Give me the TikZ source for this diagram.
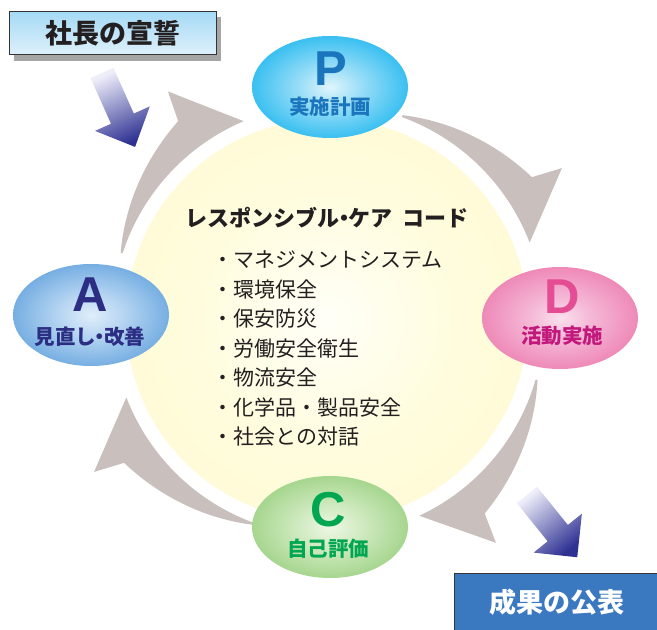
\documentclass[tikz,border=0pt]{standalone}
\usepackage{fontspec}
\setmainfont{Noto Sans CJK JP}
\newfontfamily\lat{Liberation Sans}
\usetikzlibrary{shapes.geometric}
\definecolor{arrowgray}{RGB}{201,192,190}
\definecolor{navyarrow}{RGB}{46,49,146}
\definecolor{lavarrow}{RGB}{238,238,250}
\definecolor{inkgray}{RGB}{35,31,32}
\definecolor{pubblue}{RGB}{58,120,192}
\definecolor{oathtop}{RGB}{165,218,245}
\definecolor{oathbot}{RGB}{222,240,251}
\definecolor{ptext}{RGB}{27,117,188}
\definecolor{dletter}{RGB}{228,77,147}
\definecolor{dtext}{RGB}{194,24,124}
\definecolor{atext}{RGB}{43,46,131}
\definecolor{ctext}{RGB}{0,166,81}
\pgfdeclareradialshading{yelshade}{\pgfpoint{0bp}{0bp}}{rgb(0bp)=(1,1,0.97);rgb(16bp)=(1,0.99,0.87);rgb(50bp)=(1,0.97,0.78)}
\pgfdeclareradialshading{pshade}{\pgfpoint{0bp}{0bp}}{rgb(0bp)=(0.88,0.96,0.99);rgb(10bp)=(0.6,0.87,0.97);rgb(34bp)=(0,0.68,0.93);rgb(50bp)=(0,0.68,0.93)}
\pgfdeclareradialshading{dshade}{\pgfpoint{0bp}{0bp}}{rgb(0bp)=(0.98,0.88,0.93);rgb(10bp)=(0.96,0.72,0.84);rgb(34bp)=(0.92,0.43,0.65);rgb(50bp)=(0.92,0.43,0.65)}
\pgfdeclareradialshading{ashade}{\pgfpoint{0bp}{0bp}}{rgb(0bp)=(0.88,0.93,0.98);rgb(10bp)=(0.72,0.84,0.95);rgb(34bp)=(0.31,0.59,0.85);rgb(50bp)=(0.31,0.59,0.85)}
\pgfdeclareradialshading{cshade}{\pgfpoint{0bp}{0bp}}{rgb(0bp)=(0.93,0.97,0.9);rgb(10bp)=(0.82,0.92,0.76);rgb(34bp)=(0.55,0.79,0.44);rgb(50bp)=(0.55,0.79,0.44)}
\tikzset{
  phase/.style={ellipse, inner sep=0pt, minimum width=156pt, minimum height=102pt},
  bigletter/.style={inner sep=0pt, font=\lat\bfseries\fontsize{49}{49}\selectfont},
  sublabel/.style={inner sep=0pt, font=\bfseries\fontsize{20.5}{20.5}\selectfont},
  listitem/.style={inner sep=0pt, anchor=west, text=inkgray, font=\fontsize{21}{21}\selectfont},
  bluearrow/.style={top color=lavarrow, bottom color=navyarrow}
}
\begin{document}
\begin{tikzpicture}[x=1pt,y=1pt]
\useasboundingbox (0,0) rectangle (657,630);
\fill[white] (0,0) rectangle (657,630);
% central circle
\node[circle, inner sep=0pt, minimum size=402pt, shading=yelshade] (core) at (327,310) {};
% gray cycle arrows
\foreach \T in {162,70,-16,-110}{
  \fill[arrowgray, shift={(328,310)}] ({\T}:216) arc[start angle=\T, end angle=\T-49, radius=216]
    -- ({\T-37}:279) -- ({\T-35}:249)
    -- plot[domain=0:1, samples=20, smooth] ({\T-35+35*\x}:{249-31*\x}) -- cycle;
}
% phase ellipses
\node[phase, shading=pshade] (P) at (330,543) {};
\node[phase, shading=dshade] (D) at (560,312) {};
\node[phase, shading=ashade] (A) at (91,315) {};
\node[phase, shading=cshade] (C) at (330,103) {};
\node[bigletter, text=ptext] (Pl) at (331,561) {P};
\node[sublabel, text=ptext] (Pt) at (330,523) {実施計画};
\node[bigletter, text=dletter] (Dl) at (562,333) {D};
\node[sublabel, text=dtext] (Dt) at (562,294) {活動実施};
\node[bigletter, text=atext] (Al) at (90,335) {A};
\node[sublabel, text=atext] (At) at (90,293) {見直し\hspace{-0.3em}・\hspace{-0.3em}改善};
\node[bigletter, text=ctext] (Cl) at (328,120) {C};
\node[sublabel, text=ctext] (Ct) at (328,81) {自己評価};
% central text
\node[inner sep=0pt, text=inkgray, font=\bfseries\fontsize{22}{22}\selectfont] (title) at (327,412)
  {レスポンシブル\hspace{-0.3em}・\hspace{-0.3em}ケア\hspace{0.45em}コード};
\node[listitem] (l1) at (212,370) {・マネジメントシステム};
\node[listitem] (l2) at (212,340.5) {・環境保全};
\node[listitem] (l3) at (212,311) {・保安防災};
\node[listitem] (l4) at (212,281.5) {・労働安全衛生};
\node[listitem] (l5) at (212,252) {・物流安全};
\node[listitem] (l6) at (212,222.5) {・化学品・製品安全};
\node[listitem] (l7) at (212,193) {・社会との対話};
% oath box
\fill[black!35] (14,569) rectangle (221,613);
\node[draw=black!80, line width=0.6pt, top color=oathtop, bottom color=oathbot, anchor=south west,
  minimum width=207pt, minimum height=43pt, inner sep=0pt, text=inkgray,
  font=\bfseries\fontsize{27}{27}\selectfont] (oath) at (9,575) {社長の宣誓};
% publication box
\node[draw=black!80, line width=0.6pt, fill=pubblue, anchor=south west,
  minimum width=206pt, minimum height=58pt, inner sep=0pt, text=white,
  font=\bfseries\fontsize{27}{27}\selectfont] (pub) at (454,-2) {成果の公表};
% blue arrows
\begin{scope}[shift={(102,557)}, rotate=-65.9]
  \shade[bluearrow, shading angle=24] (0,12.5) -- (50,12.5) -- (50,30) -- (81,0) -- (50,-30) -- (50,-12.5) -- (0,-12.5) -- cycle;
\end{scope}
\begin{scope}[shift={(527,135)}, rotate=-51.1]
  \shade[bluearrow, shading angle=39] (0,13) -- (49,13) -- (49,31) -- (80,0) -- (49,-31) -- (49,-13) -- (0,-13) -- cycle;
\end{scope}
\end{tikzpicture}
\end{document}
